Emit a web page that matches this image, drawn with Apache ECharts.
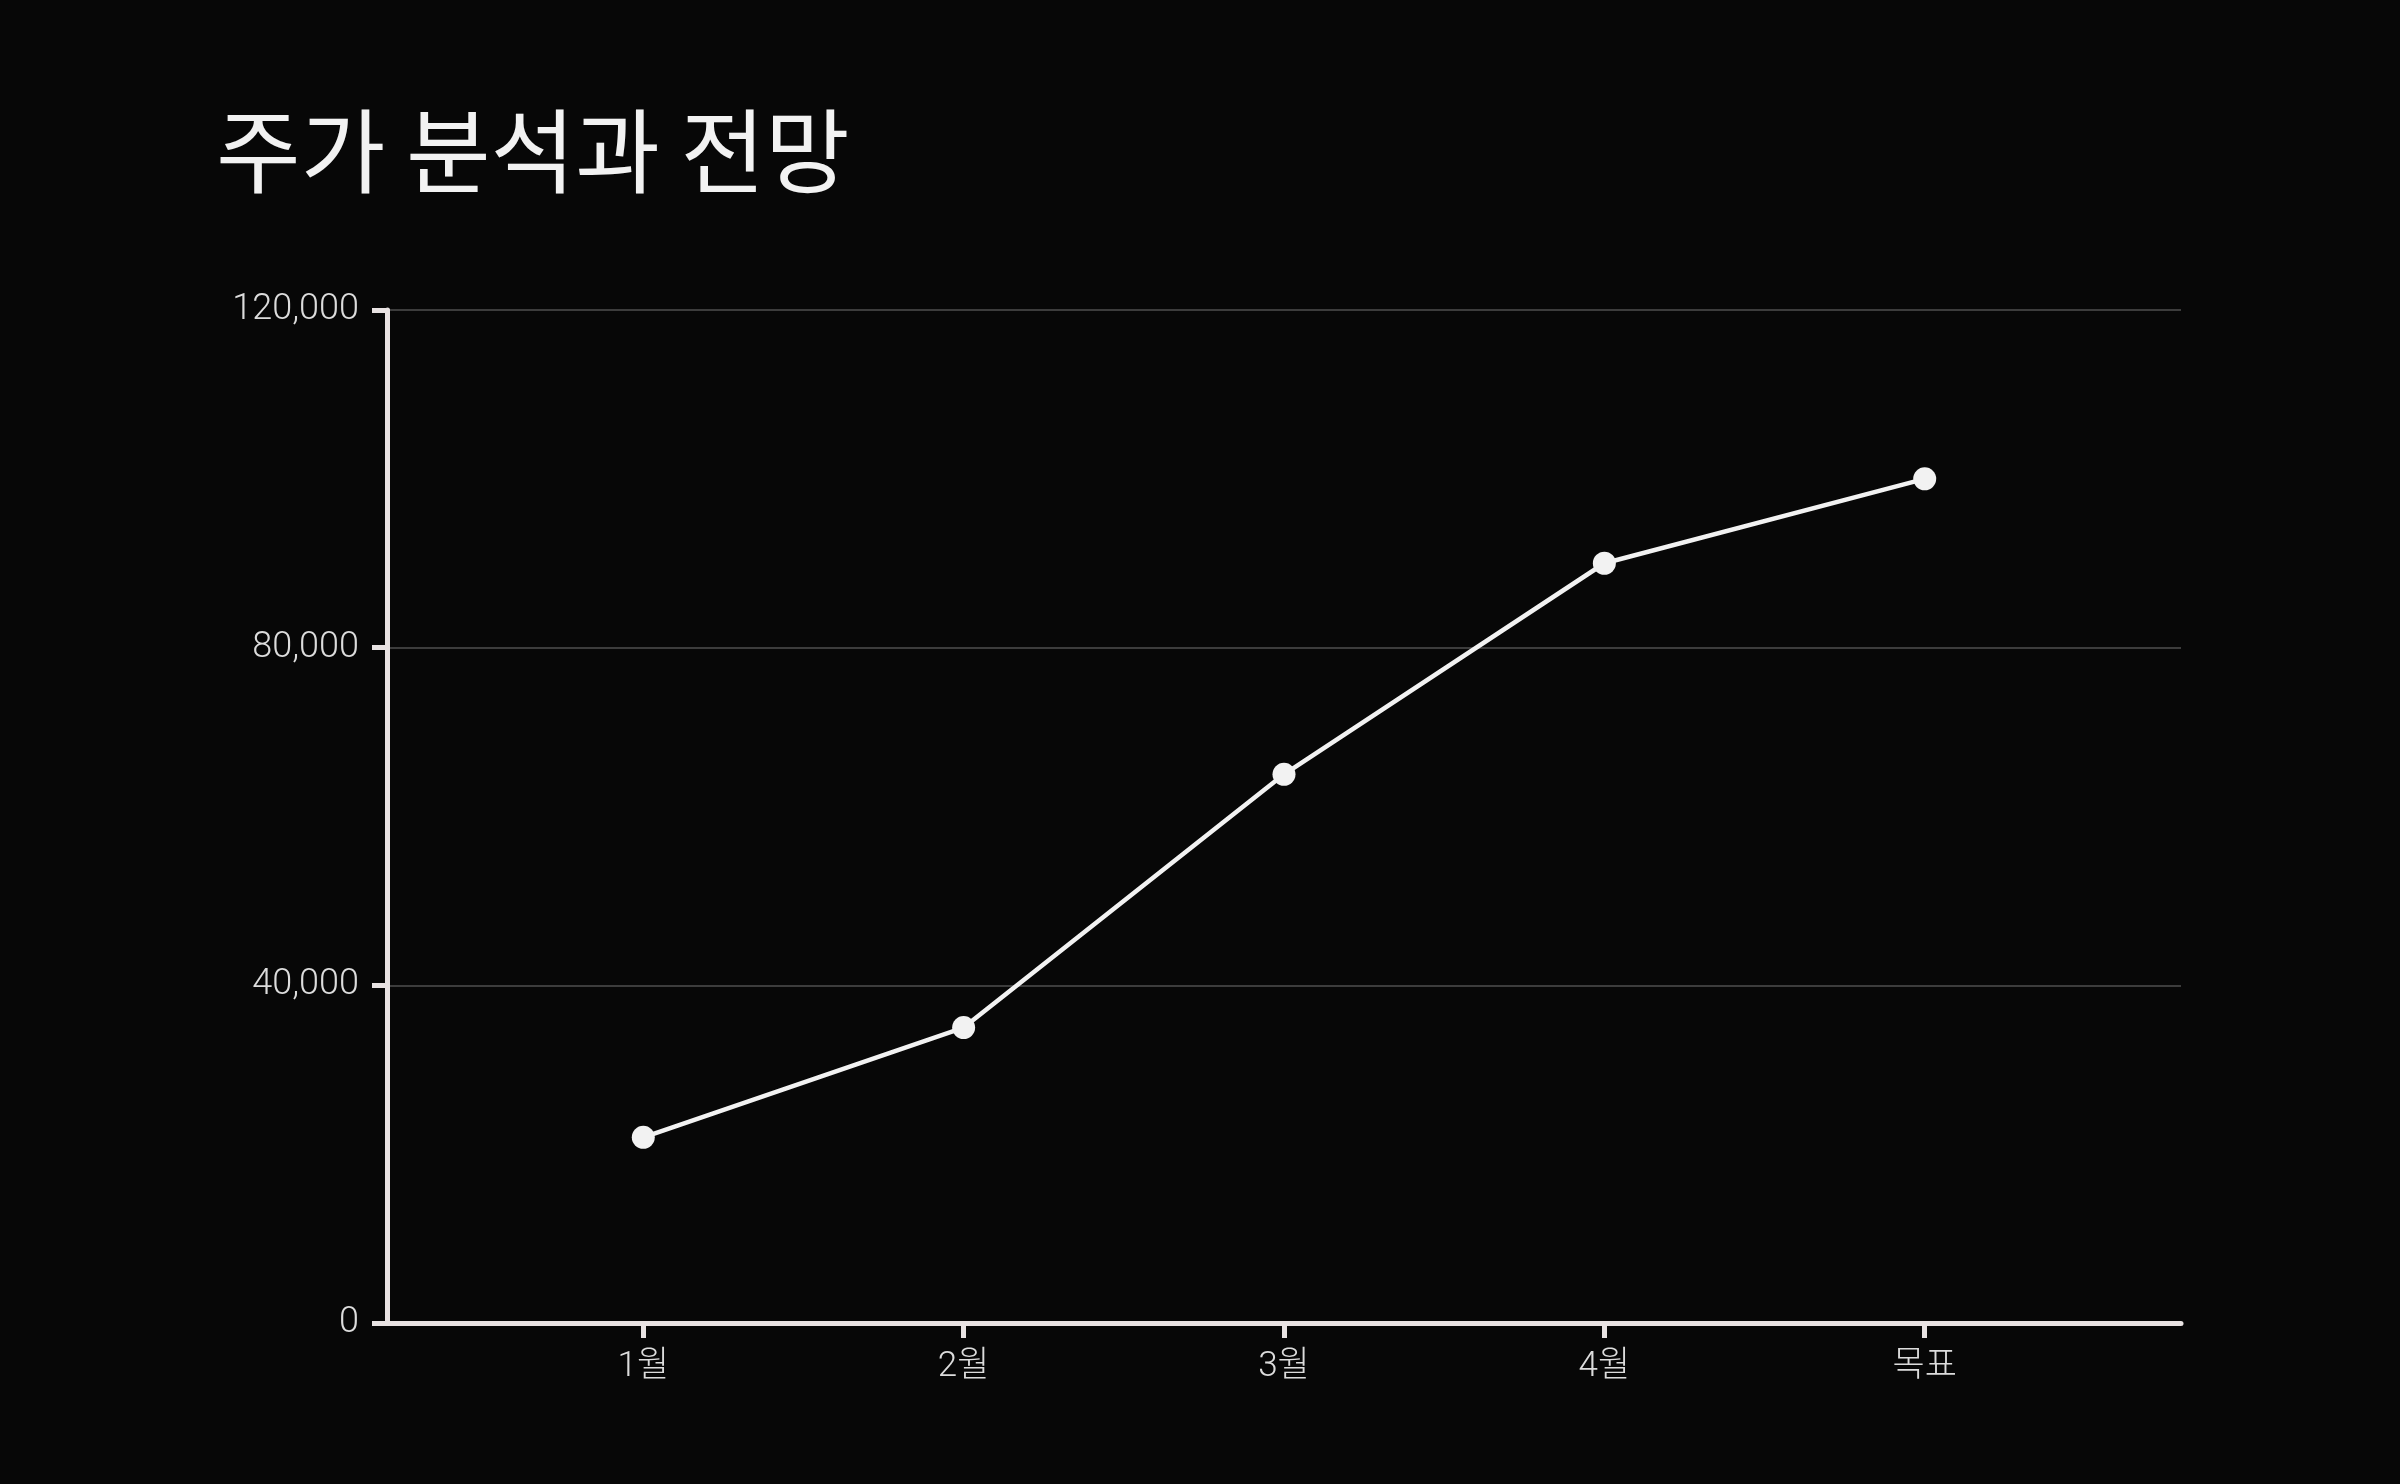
<!DOCTYPE html>
<html>
<head>
<meta charset="utf-8">
<script src="https://cdn.jsdelivr.net/npm/echarts@6/dist/echarts.min.js"></script>
<style>
html,body{margin:0;padding:0;background:#070707;}
#chart{width:2400px;height:1484px;}
</style>
</head>
<body>
<div id="chart"></div>
<script>
const titleText = '주가 분석과 전망';
const categories = ['1월', '2월', '3월', '4월', '목표'];
const prices = [22000, 35000, 65000, 90000, 100000];

const seriesData = prices.map((v, i) => [i, v]);
const fontFamily = "Roboto, 'Noto Sans CJK KR', sans-serif";

const chart = echarts.init(document.getElementById('chart'));
chart.setOption({
  backgroundColor: '#070707',
  animation: false,
  title: {
    text: titleText,
    left: 211,
    top: 100,
    textStyle: {
      color: '#f2f2f2',
      fontSize: 92,
      fontWeight: 'normal',
      fontFamily: "'Noto Sans CJK KR', sans-serif"
    }
  },
  grid: { left: 387, right: 219, top: 310, bottom: 161, containLabel: false },
  xAxis: {
    type: 'value',
    min: -0.8,
    max: 4.8,
    splitLine: { show: false },
    axisLine: { show: true, lineStyle: { color: '#e8e2e2', width: 5 } },
    axisTick: { show: true, length: 15, lineStyle: { color: '#e8e2e2', width: 5 }, customValues: categories.map((c, i) => i) },
    axisLabel: {
      customValues: categories.map((c, i) => i),
      formatter: v => categories[Math.round(v)],
      color: '#dcdcdc',
      fontSize: 35,
      fontWeight: 300,
      fontFamily: fontFamily,
      margin: 27
    }
  },
  yAxis: {
    type: 'value',
    min: 0,
    max: 120000,
    interval: 40000,
    axisLine: { show: true, onZero: false, lineStyle: { color: '#e8e2e2', width: 5 } },
    axisTick: { show: true, length: 15, lineStyle: { color: '#e8e2e2', width: 5 } },
    splitLine: { show: true, lineStyle: { color: '#3c3c3c', width: 2 } },
    axisLabel: {
      formatter: v => v.toLocaleString('en-US'),
      color: '#dcdcdc',
      fontSize: 36,
      fontWeight: 300,
      fontFamily: fontFamily,
      margin: 28
    }
  },
  series: [{
    type: 'line',
    data: seriesData,
    symbol: 'circle',
    symbolSize: 23,
    lineStyle: { color: '#f2f2f2', width: 4.5 },
    itemStyle: { color: '#f2f2f2' }
  }]
});
</script>
</body>
</html>
